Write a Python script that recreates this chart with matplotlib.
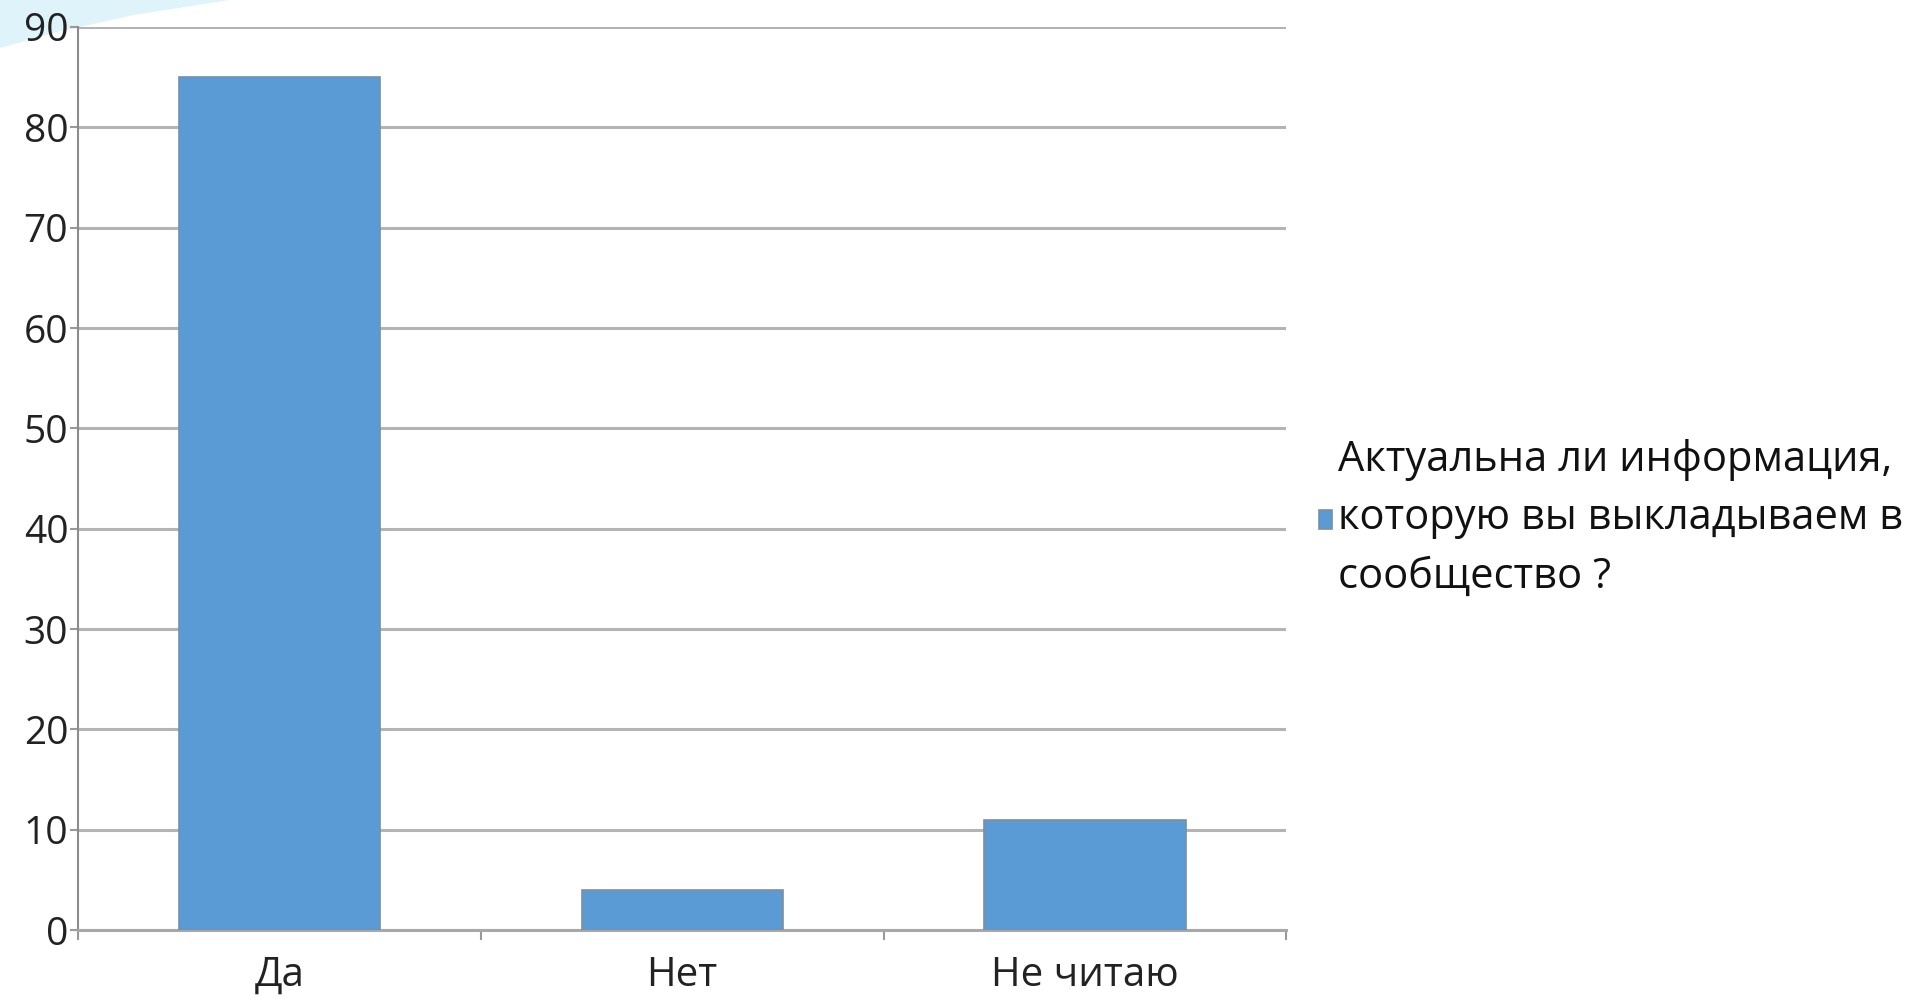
import numpy as np
import matplotlib.pyplot as plt
from matplotlib.patches import Polygon

### Data ###

categories = ["Да", "Нет", "Не читаю"]
values = [85, 4, 11]
series_name = "Актуальна ли информация,\nкоторую вы выкладываем в\nсообщество ?"
yticks = [0, 10, 20, 30, 40, 50, 60, 70, 80, 90]

bar_color = "#5b9bd5"
grid_color = "#b4b4b4"

### Plot ###

plt.rcParams['font.family'] = ['Open Sans', 'DejaVu Sans']

fig = plt.figure(figsize=(19.12, 9.99), dpi=100)

# light swoosh in the top-left corner (slide decoration)
swoosh = Polygon([[0, 0.952], [0.03, 0.968], [0.07, 0.985], [0.12, 1.0], [0, 1.0]],
                 closed=True, transform=fig.transFigure, facecolor="#dff3fa",
                 edgecolor="none", zorder=0)
fig.patches.append(swoosh)

ax = fig.add_axes([0.0408, 0.069, 0.632, 0.904])
ax.set_facecolor("none")
ax.set_zorder(2)

x = np.arange(len(categories))
ax.bar(x, values, width=0.5, color=bar_color, edgecolor="#7a8fa3", linewidth=1.2,
       label=series_name, zorder=3)

ax.set_xlim(-0.5, len(categories) - 0.5)
ax.set_ylim(0, 90)
ax.set_yticks(yticks)
ax.set_yticklabels([str(v) for v in yticks], fontsize=28, color="#222222")

ax.grid(axis="y", color=grid_color, linewidth=2.2, zorder=0)

# category labels between boundary ticks
ax.set_xticks(x)
ax.set_xticklabels(categories, fontsize=29, color="#222222")
ax.tick_params(axis="x", length=0, pad=18)
ax.set_xticks(np.arange(len(categories) + 1) - 0.5, minor=True)
ax.tick_params(axis="x", which="minor", length=7, width=1.5, color="#999999")
ax.tick_params(axis="y", length=6, width=1.5, color="#999999", pad=1)

for side in ["top", "right"]:
    ax.spines[side].set_visible(False)
ax.spines["left"].set_color("#8c8c8c")
ax.spines["left"].set_linewidth(1.5)
ax.spines["bottom"].set_color("#a8a8a8")
ax.spines["bottom"].set_linewidth(2.2)

leg = fig.legend(loc="center left", bbox_to_anchor=(0.677, 0.481), frameon=False,
                 fontsize=30, handlelength=0.3, handleheight=0.3, handletextpad=0.15,
                 labelspacing=0.4, borderpad=0.1)
for t in leg.get_texts():
    t.set_linespacing(1.5)
    t.set_color("#111111")

fig.savefig("out.png", dpi=100)
